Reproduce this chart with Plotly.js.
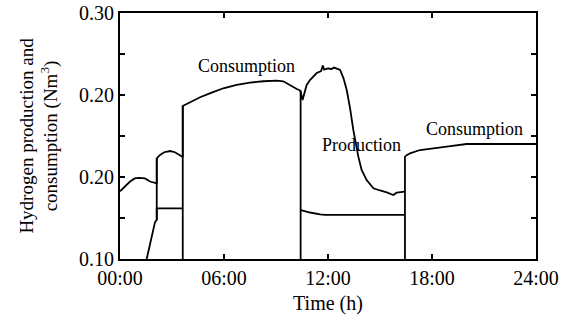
<!DOCTYPE html>
<html>
<head>
<meta charset="utf-8">
<script src="https://cdn.plot.ly/plotly-3.0.1.min.js"></script>
<style>html,body{margin:0;padding:0;background:#fff;}#chart{width:571px;height:328px;}</style>
</head>
<body>
<div id="chart"></div>
<script>
// Consumption curve (hours, Nm3) — null separates segments
const consumptionHours = [0.00,0.30,0.58,0.85,1.06,1.30,1.44,1.73,2.02,2.12,2.12,2.31,2.55,2.89,3.17,3.40,3.56,3.62,3.62,4.04,4.62,5.29,5.96,6.73,7.50,8.27,9.04,9.42,9.81,10.20,10.40,null,
  10.44,10.96,11.54,11.83,16.44,null,
  16.47,16.73,17.31,18.08,18.85,20.00,22.00,24.00];
const consumptionValues = [0.155,0.159,0.163,0.1655,0.166,0.1658,0.1655,0.163,0.162,0.1615,0.1819,0.1846,0.1868,0.1878,0.1868,0.1845,0.1832,0.1830,0.2244,0.2276,0.2315,0.2352,0.2388,0.2415,0.2434,0.2445,0.2450,0.2445,0.2412,0.2382,0.2370,null,
  0.1398,0.1378,0.1363,0.1358,0.1358,null,
  0.1837,0.1859,0.1886,0.1902,0.1913,0.1935,0.1935,0.1935];

// Production curve
const productionHours = [1.54,1.83,2.02,2.12,2.12,3.62,null,
  10.40,10.53,10.77,10.96,11.35,11.60,11.70,11.78,12.00,12.20,12.35,12.50,12.70,12.89,13.08,13.27,13.46,13.75,13.94,14.23,14.62,15.00,15.39,15.77,15.96,16.44];
const productionValues = [0.100,0.1181,0.1300,0.1317,0.1412,0.1412,null,
  0.2370,0.2293,0.2415,0.2455,0.2512,0.2528,0.2572,0.2540,0.2550,0.2545,0.2556,0.2548,0.2537,0.2471,0.2374,0.2228,0.2049,0.1832,0.1724,0.1642,0.1575,0.1557,0.1542,0.1520,0.1539,0.1547];

// Switching instants (vertical edges)
const switchHours = [2.12, 3.62, 10.42, 16.44];
const switchLow   = [0.1317, 0.10, 0.10, 0.10];
const switchHigh  = [0.1819, 0.2244, 0.2370, 0.1837];

// Axis ticks (empty labels = minor ticks)
const xTickVals = [0, 6, 12, 18, 24];
const xTickText = ["00:00", "06:00", "12:00", "18:00", "24:00"];
const yTickVals = [0.10, 0.13333, 0.16667, 0.2, 0.23333, 0.26667, 0.30];
const yTickText = ["0.10", "", "0.20", "", "0.20", "", "0.30"];

const edgeX = [], edgeY = [];
switchHours.forEach((h, i) => { edgeX.push(h, h, null); edgeY.push(switchLow[i], switchHigh[i], null); });

const lineStyle = {color: '#000', width: 1.8};
const traces = [
  {x: consumptionHours, y: consumptionValues, mode: 'lines', line: lineStyle, connectgaps: false, hoverinfo: 'skip'},
  {x: productionHours, y: productionValues, mode: 'lines', line: lineStyle, connectgaps: false, hoverinfo: 'skip'},
  {x: edgeX, y: edgeY, mode: 'lines', line: lineStyle, connectgaps: false, hoverinfo: 'skip'}
];

const font = {family: 'Liberation Serif, Times New Roman, serif', color: '#000'};
const layout = {
  width: 571, height: 328,
  margin: {l: 120, r: 35, t: 13, b: 69},
  paper_bgcolor: '#fff', plot_bgcolor: '#fff',
  showlegend: false,
  font: Object.assign({size: 18}, font),
  xaxis: {
    range: [0, 24], tickmode: 'array', tickvals: xTickVals, ticktext: xTickText,
    ticks: 'inside', ticklen: 5, tickwidth: 1.4, tickcolor: '#000',
    showline: true, linecolor: '#000', linewidth: 2, mirror: 'ticks',
    showgrid: false, zeroline: false,
    tickfont: Object.assign({size: 20}, font),
    title: {text: 'Time (h)', font: Object.assign({size: 20}, font), standoff: 8}
  },
  yaxis: {
    range: [0.10, 0.30], tickmode: 'array', tickvals: yTickVals, ticktext: yTickText,
    ticks: 'inside', ticklen: 5, tickwidth: 1.4, tickcolor: '#000',
    showline: true, linecolor: '#000', linewidth: 2, mirror: 'ticks',
    showgrid: false, zeroline: false,
    tickfont: Object.assign({size: 20}, font),
    title: {text: 'Hydrogen production and<br>consumption (Nm<sup>3</sup>)', font: Object.assign({size: 19}, font), standoff: 16}
  },
  annotations: [
    {x: 7.27, y: 0.257, xref: 'x', yref: 'y', text: 'Consumption', showarrow: false, font: Object.assign({size: 18}, font)},
    {x: 13.96, y: 0.1925, xref: 'x', yref: 'y', text: 'Production', showarrow: false, font: Object.assign({size: 18}, font)},
    {x: 20.43, y: 0.2055, xref: 'x', yref: 'y', text: 'Consumption', showarrow: false, font: Object.assign({size: 18}, font)}
  ]
};

Plotly.newPlot('chart', traces, layout, {displayModeBar: false, staticPlot: true});
</script>
</body>
</html>
